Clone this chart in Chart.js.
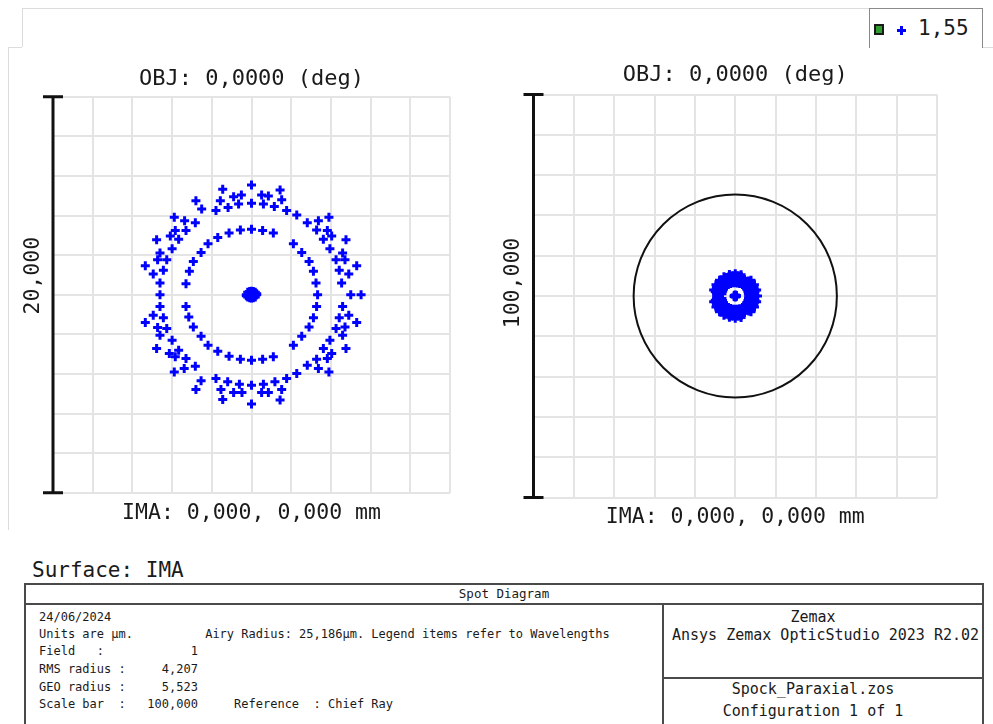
<!DOCTYPE html>
<html>
<head>
<meta charset="utf-8">
<script src="https://cdn.jsdelivr.net/npm/chart.js@4.4.1/dist/chart.umd.min.js"></script>
<style>
  body { margin: 0; background: #fff; font-family: "DejaVu Sans Mono", monospace; color: #1a1a1a; }
  #page { position: relative; width: 993px; height: 724px; overflow: hidden; background: #fff; }
  .abs { position: absolute; }
  .hl { position: absolute; height: 1px; background: #dcdcdc; }
  .vl { position: absolute; width: 1px; background: #dcdcdc; }
  .tl { position: absolute; background: #4a4a4a; }
  .t12 { position: absolute; font-size: 12px; white-space: pre; line-height: 14px; }
  .t15 { position: absolute; font-size: 15px; white-space: pre; line-height: 18px; }
</style>
</head>
<body>
<div id="page">
  <!-- frame of the plot panel -->
  <div class="hl" style="left:22px;top:8px;width:847px"></div>
  <div class="vl" style="left:22px;top:8px;height:39px"></div>
  <div class="hl" style="left:8px;top:47px;width:14px"></div>
  <div class="vl" style="left:8px;top:47px;height:483px"></div>
  <div class="hl" style="left:982px;top:47px;width:11px"></div>

  <!-- wavelength legend -->
  <div class="abs" style="left:869px;top:8px;width:112px;height:39px;border:1px solid #8a8a8a;border-bottom:none"></div>
  <div class="abs" style="left:874px;top:24px;width:6px;height:7px;border:2px solid #1a1a1a;background:#2f9e2f"></div>
  <div class="abs" style="left:897px;top:29px;width:9px;height:3px;background:#0000ff"></div>
  <div class="abs" style="left:900px;top:26px;width:3px;height:9px;background:#0000ff"></div>
  <div class="abs" id="legendText" style="left:918px;top:15px;font-size:21px;line-height:26px">1,55</div>

  <canvas id="spotLeft" class="abs" style="left:8px;top:48px" width="480" height="482"></canvas>
  <canvas id="spotRight" class="abs" style="left:488px;top:48px" width="505" height="482"></canvas>

  <div class="abs" style="left:32px;top:557px;font-size:21px;line-height:26px">Surface: IMA</div>

  <!-- info table -->
  <div class="tl" style="left:24px;top:583px;width:960px;height:2px"></div>
  <div class="tl" style="left:24px;top:583px;width:2px;height:141px"></div>
  <div class="tl" style="left:982px;top:583px;width:2px;height:141px"></div>
  <div class="tl" style="left:24px;top:603px;width:960px;height:2px"></div>
  <div class="tl" style="left:662px;top:603px;width:2px;height:121px"></div>
  <div class="tl" style="left:662px;top:677px;width:322px;height:2px"></div>

  <div class="abs" style="left:24px;top:586px;width:960px;text-align:center;font-size:12.5px;line-height:16px">Spot Diagram</div>
  <div class="t12" style="left:39px;top:610px">24/06/2024</div>
  <div class="t12" style="left:39px;top:627px">Units are µm.          Airy Radius: 25,186µm. Legend items refer to Wavelengths</div>
  <div class="t12" style="left:39px;top:644px">Field   :            1</div>
  <div class="t12" style="left:39px;top:662px">RMS radius :     4,207</div>
  <div class="t12" style="left:39px;top:680px">GEO radius :     5,523</div>
  <div class="t12" style="left:39px;top:697px">Scale bar  :   100,000     Reference  : Chief Ray</div>

  <div class="t15" style="left:663px;top:608px;width:300px;text-align:center">Zemax</div>
  <div class="t15" style="left:672px;top:626px">Ansys Zemax OpticStudio 2023 R2.02</div>
  <div class="t15" style="left:663px;top:680px;width:300px;text-align:center">Spock_Paraxial.zos</div>
  <div class="t15" style="left:663px;top:702px;width:300px;text-align:center">Configuration 1 of 1</div>
</div>

<script>
// ray intercepts on the image surface, micrometres (x, y)
const spotX = [
  0, 0, 0, 0, 0, 0,
  -0.51, -0.90, -1.45, -0.65, -1.18, -1.57, -1.79, -2.51, -2.80, -2.83, -3.37, -3.89, -3.30, -3.84,
  -4.09, -3.67, -4.78, -4.00, -4.61, -4.73, -4.27, -5.35, -4.44, -4.95, -4.61, -4.61,
  -0.56, -1.13, -1.70, -2.19, -2.54, -2.93, -3.13, -3.30,
  1.44, 0.51, 0.85, 1.52, 0.60, 1.15, 1.77, 2.28, 2.81, 3.37, 3.90, 3.28, 3.82,
  4.04, 3.62, 4.76, 3.95, 4.59, 4.26, 4.71, 5.30, 4.42, 4.90, 4.54, 5.00, 5.52,
  0.56, 1.10, 2.11, 2.53, 2.90, 3.12, 3.25, 3.33,
  -4.61, -4.95, -4.44, -5.35, -4.73, -4.27, -4.61, -4.00, -4.78, -4.14, -3.67, -3.84, -3.30,
  -3.39, -3.89, -2.83, -2.54, -2.80, -1.79, -1.20, -1.54, -0.61, -0.90, -0.48, -1.45,
  -3.30, -3.16, -2.93, -2.54, -2.19, -1.70, -1.13, -0.56,
  4.59, 4.42, 4.90, 5.30, 4.26, 4.71, 4.59, 3.95, 4.76, 3.62, 4.04, 3.82, 3.28,
  2.81, 3.37, 3.90, 2.28, 1.77, 1.18, 1.52, 0.60, 0.51, 0.85, 1.44,
  3.28, 3.12, 2.90, 2.53, 2.11, 1.10, 0.56
];
const spotY = [
  5.54, 4.62, 3.31, -3.31, -4.57, -5.52,
  5.04, 4.95, 5.32, 4.58, 4.41, 4.75, 4.25, 4.33, 4.75, 3.64, 3.74, 3.91, 3.24, 3.24,
  2.97, 2.80, 2.77, 2.32, 2.10, 1.76, 1.76, 1.46, 1.23, 1.04, 0.59, 0.00,
  3.27, 3.12, 2.89, 2.57, 2.13, 1.68, 1.18, 0.55,
  5.29, 5.04, 4.99, 4.79, 4.58, 4.45, 4.25, 4.03, 3.64, 3.74, 3.91, 3.27, 3.24,
  2.97, 2.80, 2.77, 2.32, 2.10, 1.76, 1.76, 1.46, 1.23, 1.04, 0.59, 0.00, 0.00,
  3.24, 3.11, 2.57, 2.13, 1.68, 1.18, 0.59, 0.00,
  -0.59, -1.04, -1.16, -1.41, -1.66, -1.71, -2.05, -2.30, -2.72, -2.97, -2.80, -3.14, -3.22,
  -3.73, -3.90, -3.61, -4.35, -4.79, -4.23, -4.40, -4.79, -4.52, -4.94, -4.94, -5.29,
  -0.59, -1.13, -1.63, -2.10, -2.55, -2.85, -3.11, -3.26,
  -0.59, -1.16, -1.04, -1.41, -1.71, -1.63, -2.05, -2.30, -2.72, -2.72, -2.97, -3.22, -3.26,
  -3.56, -3.73, -3.90, -3.98, -4.23, -4.40, -4.79, -4.52, -4.94, -4.94, -5.32,
  -0.59, -1.16, -1.63, -2.10, -2.55, -3.14, -3.26
];
// dense cluster of rays around the chief ray
const coreX = [0, 0.26, -0.26, 0, 0, 0.19, -0.19, 0.19, -0.19, 0.12, -0.12, 0.26, -0.26, 0.09, -0.09, 0.09, -0.09];
const coreY = [0, 0, 0, 0.17, -0.17, 0.12, 0.12, -0.12, -0.12, 0.06, -0.06, 0.05, -0.05, 0.16, -0.16, -0.16, 0.16];

const fieldLabel = "OBJ: 0,0000 (deg)";
const imageLabel = "IMA: 0,000, 0,000 mm";
const leftScaleBar = 20;     // µm
const rightScaleBar = 100;   // µm
const airyRadius = 25.186;   // µm

const mono = '"DejaVu Sans Mono", monospace';
const blue = "#0000ff";

const toPoints = (xs, ys) => xs.map((x, i) => ({x: x, y: ys[i]}));
const fmt = v => v.toFixed(3).replace(".", ",");

// black scale bar along the left edge, with its rotated length label
const scaleBarPlugin = {
  id: "scaleBar",
  afterDraw(chart, args, opts) {
    const {ctx, chartArea} = chart;
    const ys = chart.scales.y;
    const yTop = ys.getPixelForValue(ys.min + opts.length);
    const yBot = ys.getPixelForValue(ys.min);
    const x = chartArea.left;
    ctx.save();
    ctx.strokeStyle = "#111";
    ctx.lineWidth = 3;
    ctx.beginPath();
    ctx.moveTo(x, yTop); ctx.lineTo(x, yBot);
    ctx.moveTo(x - 10, yTop); ctx.lineTo(x + 10, yTop);
    ctx.moveTo(x - 10, yBot); ctx.lineTo(x + 10, yBot);
    ctx.stroke();
    ctx.translate(x - opts.gap, (yTop + yBot) / 2 + opts.shift);
    ctx.rotate(-Math.PI / 2);
    ctx.font = "21.5px " + mono;
    ctx.fillStyle = "#1a1a1a";
    ctx.textAlign = "center";
    ctx.textBaseline = "middle";
    ctx.fillText(fmt(opts.length), 0, 0);
    ctx.restore();
  }
};

// Airy disc circle
const airyPlugin = {
  id: "airy",
  beforeDatasetsDraw(chart, args, opts) {
    if (!opts.radius) return;
    const {ctx} = chart;
    const xs = chart.scales.x, ys = chart.scales.y;
    const cx = xs.getPixelForValue(0), cy = ys.getPixelForValue(0);
    const rx = xs.getPixelForValue(opts.radius) - cx;
    const ry = cy - ys.getPixelForValue(opts.radius);
    ctx.save();
    ctx.strokeStyle = "#111";
    ctx.lineWidth = 2;
    ctx.beginPath();
    ctx.ellipse(cx, cy, rx, ry, 0, 0, Math.PI * 2);
    ctx.stroke();
    ctx.restore();
  }
};

function makeSpotChart(canvasId, half, step, barLength, airy, pad, titlePad, xTitlePad, labelShift) {
  const pointStyle = {
    pointStyle: "cross",
    pointRadius: 4.5,
    pointBorderWidth: 3,
    pointBorderColor: blue,
    pointBackgroundColor: blue
  };
  const axis = {
    type: "linear",
    min: -half,
    max: half,
    ticks: {display: false, stepSize: step},
    border: {display: false},
    grid: {color: "#e4e4e4", lineWidth: 2, drawTicks: false}
  };
  return new Chart(document.getElementById(canvasId), {
    type: "scatter",
    data: {
      datasets: [
        Object.assign({label: "core", data: toPoints(coreX, coreY)}, pointStyle),
        Object.assign({label: "1,55", data: toPoints(spotX, spotY)}, pointStyle)
      ]
    },
    options: {
      responsive: false,
      animation: false,
      events: [],
      layout: {padding: pad},
      scales: {
        x: Object.assign({}, axis, {
          title: {display: true, text: imageLabel, color: "#1a1a1a",
                  font: {family: mono, size: 21.5}, padding: xTitlePad}
        }),
        y: Object.assign({}, axis, {
          afterFit: s => { s.width = 0; }
        })
      },
      plugins: {
        legend: {display: false},
        tooltip: {enabled: false},
        title: {display: true, text: fieldLabel, color: "#1a1a1a",
                font: {family: mono, size: 22, weight: "normal"}, padding: titlePad},
        scaleBar: {length: barLength, gap: 20, shift: labelShift},
        airy: {radius: airy}
      }
    },
    plugins: [airyPlugin, scaleBarPlugin]
  });
}

makeSpotChart("spotLeft", 10, 2, leftScaleBar, 0,
  {left: 45, right: 38, top: 0, bottom: 0}, {top: 18, bottom: 4.3}, {top: 7.8, bottom: 3.7}, -19);
makeSpotChart("spotRight", 50, 10, rightScaleBar, airyRadius,
  {left: 45.5, right: 56, top: 0, bottom: 0}, {top: 14.4, bottom: 5.7}, {top: 6.6, bottom: 0.1}, -13);
</script>
</body>
</html>
